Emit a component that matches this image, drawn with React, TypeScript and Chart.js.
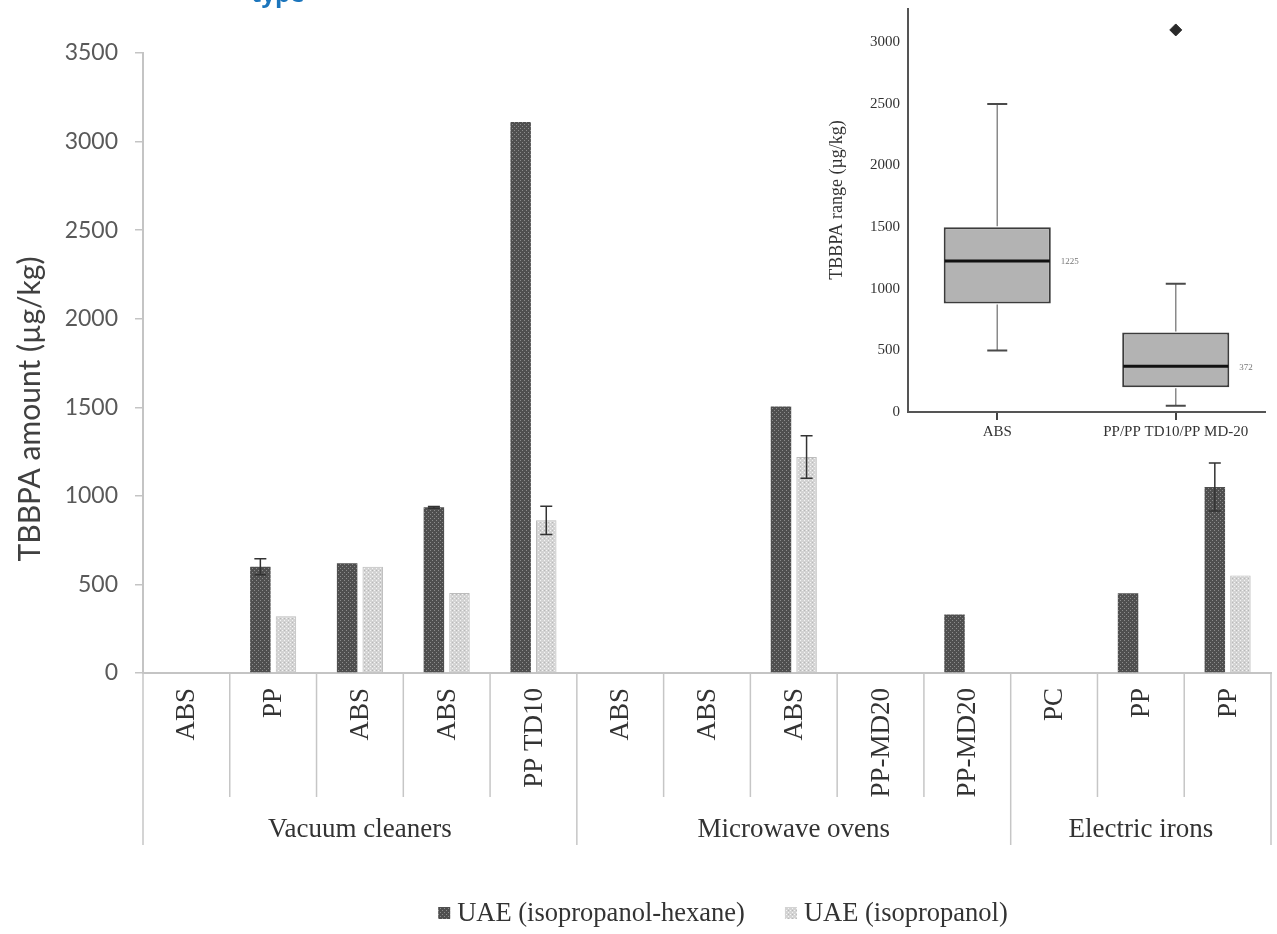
import React, { useEffect, useRef } from 'react';
import { Chart, registerables } from 'chart.js';

Chart.register(...registerables);

// ---------- main chart data ----------
const categories = ['ABS', 'PP', 'ABS', 'ABS', 'PP TD10', 'ABS', 'ABS', 'ABS', 'PP-MD20', 'PP-MD20', 'PC', 'PP', 'PP'];
const groupNames = ['Vacuum cleaners', 'Microwave ovens', 'Electric irons'];
const groupSizes = [5, 5, 3];
const seriesNames = ['UAE (isopropanol-hexane)', 'UAE (isopropanol)'];
const hexaneValues = [0, 600, 620, 935, 3110, 0, 0, 1505, 0, 330, 0, 450, 1050];
const hexaneErrors = [0, 45, 0, 5, 0, 0, 0, 0, 0, 0, 0, 0, 135];
const isoValues = [0, 320, 600, 452, 862, 0, 0, 1220, 0, 0, 0, 0, 550];
const isoErrors = [0, 0, 0, 0, 80, 0, 0, 120, 0, 0, 0, 0, 0];
const yMax = 3500;
const yStep = 500;
const yTitle = 'TBBPA amount (µg/kg)';
const captionFragment = 'type';

// ---------- inset box plot data ----------
const boxCategories = ['ABS', 'PP/PP TD10/PP MD-20'];
const boxMin = [500, 50];
const boxQ1 = [880, 200];
const boxMedian = [1225, 372];
const boxQ3 = [1500, 645];
const boxMax = [2500, 1040];
const boxOutliers = [null, 3100];
const boxYMax = 3270;
const boxYTicks = [0, 500, 1000, 1500, 2000, 2500, 3000];
const boxYTitle = 'TBBPA range (µg/kg)';

const SERIF = '"Liberation Serif", "Times New Roman", serif';
const SANS = 'Lato, "Open Sans", sans-serif';

function makePattern(base: string, dot: string, dot2?: string) {
  const c = document.createElement('canvas');
  c.width = 4;
  c.height = 4;
  const g = c.getContext('2d')!;
  g.fillStyle = base;
  g.fillRect(0, 0, 4, 4);
  g.fillStyle = dot;
  g.fillRect(0, 0, 1, 1);
  g.fillRect(2, 2, 1, 1);
  if (dot2) {
    g.fillStyle = dot2;
    g.fillRect(0, 2, 1, 1);
  }
  return g.createPattern(c, 'repeat')!;
}

export default function App() {
  const mainRef = useRef<HTMLCanvasElement>(null);
  const insetRef = useRef<HTMLCanvasElement>(null);

  useEffect(() => {
    document.body.style.margin = '0';
    const darkPat = makePattern('#4f4f4f', '#8c8c8c');
    const lightPat = makePattern('#d3d3d3', '#f4f4f4', '#b8b8b8');
    const patterns = [darkPat, lightPat];
    const seriesErrors = [hexaneErrors, isoErrors];

    const mainDecor = {
      id: 'mainDecor',
      afterDatasetsDraw(chart: any) {
        const { ctx } = chart;
        const y = chart.scales.y;
        ctx.save();
        ctx.strokeStyle = '#333';
        ctx.lineWidth = 1.5;
        chart.data.datasets.forEach((ds: any, di: number) => {
          const meta = chart.getDatasetMeta(di);
          const errs = seriesErrors[di];
          meta.data.forEach((bar: any, i: number) => {
            const e = errs[i];
            if (!e) return;
            const v = ds.data[i] as number;
            const x = bar.x;
            const yT = y.getPixelForValue(v + e);
            const yB = y.getPixelForValue(v - e);
            ctx.beginPath();
            ctx.moveTo(x, yT);
            ctx.lineTo(x, yB);
            ctx.moveTo(x - 6, yT);
            ctx.lineTo(x + 6, yT);
            ctx.moveTo(x - 6, yB);
            ctx.lineTo(x + 6, yB);
            ctx.stroke();
          });
        });
        ctx.restore();
      },
      afterDraw(chart: any) {
        const { ctx, chartArea: a } = chart;
        const xs = chart.scales.x;
        const n = categories.length;
        const w = (a.right - a.left) / n;
        ctx.save();
        // dividers
        const groupBounds = new Set<number>([0]);
        let acc = 0;
        groupSizes.forEach((s) => {
          acc += s;
          groupBounds.add(acc);
        });
        ctx.strokeStyle = '#c6c6c6';
        ctx.lineWidth = 1.5;
        for (let k = 0; k <= n; k++) {
          const bx = a.left + k * w;
          const isGroup = groupBounds.has(k);
          ctx.beginPath();
          ctx.moveTo(bx, a.bottom);
          ctx.lineTo(bx, a.bottom + (isGroup ? 172 : 124));
          ctx.stroke();
        }
        // category labels (rotated)
        ctx.fillStyle = '#333';
        ctx.font = `27px ${SERIF}`;
        categories.forEach((c, i) => {
          const cx = xs.getPixelForValue(i);
          ctx.save();
          ctx.translate(cx + 1, a.bottom + 15);
          ctx.rotate(-Math.PI / 2);
          ctx.textAlign = 'right';
          ctx.textBaseline = 'middle';
          ctx.fillText(c, 0, 0);
          ctx.restore();
        });
        // group labels
        ctx.textAlign = 'center';
        ctx.textBaseline = 'middle';
        let start = 0;
        groupNames.forEach((g, gi) => {
          const end = start + groupSizes[gi];
          const gx = a.left + ((start + end) / 2) * w;
          ctx.fillText(g, gx, a.bottom + 157);
          start = end;
        });
        // y title
        ctx.save();
        ctx.translate(30, 409);
        ctx.rotate(-Math.PI / 2);
        ctx.font = `30px ${SANS}`;
        ctx.fillStyle = '#404040';
        ctx.textAlign = 'center';
        ctx.textBaseline = 'middle';
        ctx.fillText(yTitle, 0, 0);
        ctx.restore();
        // legend
        ctx.font = `26.5px ${SERIF}`;
        ctx.textAlign = 'left';
        ctx.textBaseline = 'middle';
        const box = 12;
        const gapBox = 7;
        const gapItems = 40;
        const widths = seriesNames.map((s) => box + gapBox + ctx.measureText(s).width);
        const total = widths.reduce((p, v) => p + v, 0) + gapItems * (seriesNames.length - 1);
        let lx = 723 - total / 2;
        const ly = 913;
        seriesNames.forEach((s, si) => {
          ctx.fillStyle = patterns[si];
          ctx.fillRect(lx, ly - box / 2, box, box);
          ctx.fillStyle = '#333';
          ctx.fillText(s, lx + box + gapBox, ly + 1);
          lx += widths[si] + gapItems;
        });
        // caption fragment (cut off at top)
        ctx.font = `bold 24px "Open Sans", sans-serif`;
        ctx.fillStyle = '#1b75bc';
        ctx.textBaseline = 'alphabetic';
        ctx.fillText(captionFragment, 251, 2);
        ctx.restore();
      },
    };

    const main = new Chart(mainRef.current!, {
      type: 'bar',
      data: {
        labels: categories,
        datasets: [
          { label: seriesNames[0], data: hexaneValues, backgroundColor: darkPat, borderWidth: 0 },
          { label: seriesNames[1], data: isoValues, backgroundColor: lightPat, borderColor: '#bcbcbc', borderWidth: 1 },
        ],
      },
      options: {
        responsive: false,
        animation: false,
        devicePixelRatio: 1,
        layout: { padding: { left: 0, right: 6, top: 53, bottom: 261 } },
        datasets: { bar: { categoryPercentage: 0.59, barPercentage: 0.8 } },
        plugins: { legend: { display: false }, tooltip: { enabled: false } },
        scales: {
          x: {
            grid: { display: false, drawTicks: false },
            ticks: { display: false },
            border: { display: true, color: '#c4c4c4', width: 2 },
            afterFit: (s: any) => {
              s.height = 0;
            },
          },
          y: {
            min: 0,
            max: yMax,
            ticks: {
              stepSize: yStep,
              font: { family: SANS, size: 23 },
              color: '#595959',
              padding: 17,
              callback: (v: any) => String(v),
            },
            grid: { drawOnChartArea: false, drawTicks: true, tickLength: 8, color: '#c4c4c4', lineWidth: 1.5 },
            border: { color: '#c4c4c4', width: 2 },
            afterFit: (s: any) => {
              s.width = 143;
            },
          },
        },
      },
      plugins: [mainDecor],
    } as any);

    const boxDecor = {
      id: 'boxDecor',
      afterDatasetsDraw(chart: any) {
        const { ctx } = chart;
        const y = chart.scales.y;
        const meta = chart.getDatasetMeta(0);
        ctx.save();
        meta.data.forEach((bar: any, i: number) => {
          const x = bar.x;
          const half = bar.width / 2;
          const yQ1 = y.getPixelForValue(boxQ1[i]);
          const yQ3 = y.getPixelForValue(boxQ3[i]);
          const yMin = y.getPixelForValue(boxMin[i]);
          const yMx = y.getPixelForValue(boxMax[i]);
          const yMed = y.getPixelForValue(boxMedian[i]);
          ctx.strokeStyle = '#8a8a8a';
          ctx.lineWidth = 1.5;
          ctx.beginPath();
          ctx.moveTo(x, yQ3 - 1);
          ctx.lineTo(x, yMx);
          ctx.moveTo(x, yQ1 + 1);
          ctx.lineTo(x, yMin);
          ctx.stroke();
          ctx.strokeStyle = '#4a4a4a';
          ctx.lineWidth = 2;
          ctx.beginPath();
          ctx.moveTo(x - 10, yMx);
          ctx.lineTo(x + 10, yMx);
          ctx.moveTo(x - 10, yMin);
          ctx.lineTo(x + 10, yMin);
          ctx.stroke();
          ctx.strokeStyle = '#111';
          ctx.lineWidth = 3;
          ctx.beginPath();
          ctx.moveTo(x - half + 1, yMed);
          ctx.lineTo(x + half - 1, yMed);
          ctx.stroke();
          ctx.font = `9px ${SERIF}`;
          ctx.fillStyle = '#777';
          ctx.textAlign = 'left';
          ctx.textBaseline = 'middle';
          ctx.fillText(String(boxMedian[i]), x + half + 10, yMed + 1);
        });
        // y title
        ctx.save();
        ctx.translate(17, 200);
        ctx.rotate(-Math.PI / 2);
        ctx.font = `18px ${SERIF}`;
        ctx.fillStyle = '#333';
        ctx.textAlign = 'center';
        ctx.textBaseline = 'middle';
        ctx.fillText(boxYTitle, 0, 0);
        ctx.restore();
        ctx.restore();
      },
    };

    const inset = new Chart(insetRef.current!, {
      type: 'bar',
      data: {
        labels: boxCategories,
        datasets: [
          {
            type: 'bar',
            data: boxCategories.map((_, i) => [boxQ1[i], boxQ3[i]]),
            backgroundColor: '#b3b3b3',
            borderColor: '#3c3c3c',
            borderWidth: 2,
            borderSkipped: false,
            barPercentage: 0.6,
            categoryPercentage: 1,
          },
          {
            type: 'line',
            data: boxOutliers,
            showLine: false,
            pointStyle: 'rectRot',
            pointRadius: 6,
            backgroundColor: '#2a2a2a',
            borderColor: '#2a2a2a',
          },
        ],
      },
      options: {
        responsive: false,
        animation: false,
        devicePixelRatio: 1,
        layout: { padding: { left: 3, right: 12, top: 9, bottom: 0 } },
        plugins: { legend: { display: false }, tooltip: { enabled: false } },
        scales: {
          x: {
            offset: true,
            grid: { display: true, offset: false, drawOnChartArea: false, drawTicks: true, tickLength: 8, color: '#444', lineWidth: 2 },
            border: { color: '#555', width: 2 },
            ticks: { font: { family: SERIF, size: 15 }, color: '#333', padding: 3 },
            afterFit: (s: any) => {
              s.height = 38;
            },
          },
          y: {
            min: 0,
            max: boxYMax,
            afterBuildTicks: (s: any) => {
              s.ticks = boxYTicks.map((v) => ({ value: v }));
            },
            ticks: {
              font: { family: SERIF, size: 15 },
              color: '#333',
              padding: 8,
              callback: (v: any) => String(v),
            },
            grid: { display: false, drawTicks: false },
            border: { color: '#555', width: 2 },
            afterFit: (s: any) => {
              s.width = 85;
              s.paddingTop = 0;
              s.paddingBottom = 0;
            },
          },
        },
      },
      plugins: [boxDecor],
    } as any);

    return () => {
      main.destroy();
      inset.destroy();
    };
  }, []);

  return (
    <div style={{ position: 'relative', width: 1277, height: 934, overflow: 'hidden', background: '#fff' }}>
      <canvas ref={mainRef} width={1277} height={934} style={{ position: 'absolute', left: 0, top: 0 }} />
      <canvas ref={insetRef} width={457} height={450} style={{ position: 'absolute', left: 820, top: 0 }} />
    </div>
  );
}
